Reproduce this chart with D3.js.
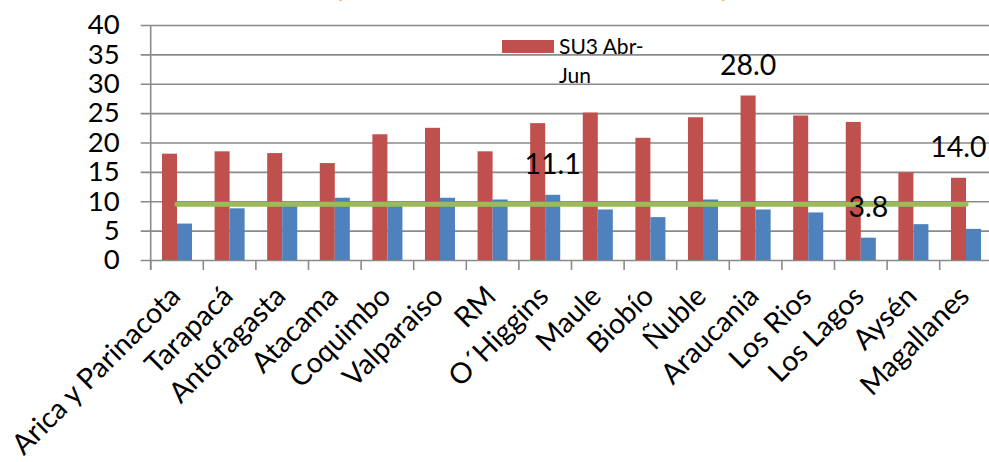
<!DOCTYPE html>
<html>
<head>
<meta charset="utf-8">
<script src="https://cdn.jsdelivr.net/npm/d3@7"></script>
<style>
  html, body { margin: 0; padding: 0; background: #fff; }
  svg { display: block; font-family: Lato, "Open Sans", sans-serif; }
</style>
</head>
<body>
<div id="chart"></div>
<script>
// ── DATA ─────────────────────────────────────
const regions = [
  'Arica y Parinacota', 'Tarapacá', 'Antofagasta', 'Atacama', 'Coquimbo',
  'Valparaiso', 'RM', 'O´Higgins', 'Maule', 'Biobío', 'Ñuble',
  'Araucania', 'Los Rios', 'Los Lagos', 'Aysén', 'Magallanes'
];
const su3AbrJun = [18.1, 18.5, 18.2, 16.5, 21.4, 22.5, 18.5, 23.3, 25.1, 20.8, 24.3, 28.0, 24.6, 23.5, 14.9, 14.0];
const otherSeries = [6.2, 8.8, 9.2, 10.6, 9.3, 10.6, 10.3, 11.1, 8.6, 7.3, 10.3, 8.6, 8.1, 3.8, 6.1, 5.3];
const refLine = [9.5, 9.5, 9.5, 9.5, 9.5, 9.5, 9.5, 9.5, 9.5, 9.5, 9.5, 9.5, 9.5, 9.5, 9.5, 9.5];
const yTicks = [0, 5, 10, 15, 20, 25, 30, 35, 40];
// data labels shown on the chart: [series, region]
const dataLabels = [
  ['other', 'O´Higgins'],
  ['su3', 'Araucania'],
  ['other', 'Los Lagos'],
  ['su3', 'Magallanes']
];

const RED = '#C0504D';
const BLUE = '#4F81BD';
const GREEN = '#9BBB59';
const GRID = '#8a8a8a';

// ── LAYOUT ───────────────────────────────────
const W = 989, H = 462;
const plot = { l: 150.7, r: 992.3, t: 25, b: 260 };

const svg = d3.select('#chart').append('svg')
  .attr('width', W).attr('height', H)
  .attr('viewBox', `0 0 ${W} ${H}`);

const x = d3.scaleBand().domain(regions).range([plot.l, plot.r]);
const xs = d3.scaleBand().domain(['su3', 'other'])
  .range([0, x.bandwidth()]).paddingInner(0).paddingOuter(0.75);
const y = d3.scaleLinear().domain([0, 40]).range([plot.b, plot.t]);

// ── title (only its lower edge is visible)
svg.append('text').attr('x', 339).attr('y', -3)
  .attr('fill', '#F79646').attr('font-size', 28).attr('text-anchor', 'middle').text('(');
svg.append('text').attr('x', 725).attr('y', -3)
  .attr('fill', '#F79646').attr('font-size', 28).attr('text-anchor', 'middle').text(')');

// ── grid + y axis
const yAxis = svg.append('g')
  .attr('transform', `translate(${plot.l},0)`)
  .call(d3.axisLeft(y).tickValues(yTicks).tickSize(-(W - plot.l + 10)).tickSizeOuter(0).tickPadding(31));
yAxis.select('.domain').remove();
yAxis.selectAll('.tick line')
  .attr('x1', -10).attr('x2', W - plot.l + 10)
  .attr('stroke', GRID).attr('stroke-width', 1.6);
yAxis.selectAll('.tick text')
  .attr('font-size', 27.5).attr('fill', '#000')
  .attr('font-family', 'Lato, sans-serif');

svg.append('line')
  .attr('x1', plot.l).attr('x2', plot.l)
  .attr('y1', plot.t).attr('y2', plot.b + 10)
  .attr('stroke', GRID).attr('stroke-width', 1.6);

// ── x axis ticks (category boundaries)
const boundaries = regions.map(r => x(r));
svg.append('g').selectAll('line')
  .data(boundaries)
  .enter().append('line')
  .attr('x1', d => d).attr('x2', d => d)
  .attr('y1', plot.b).attr('y2', plot.b + 10)
  .attr('stroke', GRID).attr('stroke-width', 1.6);

// ── bars
const rows = regions.map((r, i) => ({ region: r, su3: su3AbrJun[i], other: otherSeries[i] }));
const groups = svg.append('g').selectAll('g')
  .data(rows)
  .enter().append('g')
  .attr('transform', d => `translate(${x(d.region)},0)`);

groups.append('rect')
  .attr('x', xs('su3')).attr('width', xs.bandwidth())
  .attr('y', d => y(d.su3)).attr('height', d => y(0) - y(d.su3))
  .attr('fill', RED);

groups.append('rect')
  .attr('x', xs('other')).attr('width', xs.bandwidth())
  .attr('y', d => y(d.other)).attr('height', d => y(0) - y(d.other))
  .attr('fill', BLUE);

// ── reference line
const line = d3.line()
  .x((d, i) => x(regions[i]) + x.bandwidth() / 2)
  .y(d => y(d));
svg.append('path')
  .datum(refLine)
  .attr('d', line)
  .attr('fill', 'none')
  .attr('stroke', GREEN)
  .attr('stroke-width', 5)
  .attr('stroke-linecap', 'round');

// ── data labels
dataLabels.forEach(([s, r]) => {
  const i = regions.indexOf(r);
  const v = s === 'su3' ? su3AbrJun[i] : otherSeries[i];
  svg.append('text')
    .attr('x', x(r) + xs(s) + xs.bandwidth() / 2)
    .attr('y', y(v) - 21)
    .attr('text-anchor', 'middle')
    .attr('font-size', 28.5)
    .text(v.toFixed(1));
});

// ── category labels
svg.append('g').selectAll('text')
  .data(regions)
  .enter().append('text')
  .attr('transform', d => `translate(${x(d) + x.bandwidth() / 2 + 5},${plot.b + 38}) rotate(-45)`)
  .attr('text-anchor', 'end')
  .attr('font-size', 28.5)
  .text(d => d);

// ── legend (partially visible)
const lg = svg.append('g').attr('transform', 'translate(502,40)');
lg.append('rect').attr('width', 52).attr('height', 13).attr('fill', RED);
lg.append('text').attr('x', 57).attr('y', 13.5).attr('font-size', 21).text('SU3 Abr-');
lg.append('text').attr('x', 57).attr('y', 43).attr('font-size', 21).text('Jun');
</script>
</body>
</html>
